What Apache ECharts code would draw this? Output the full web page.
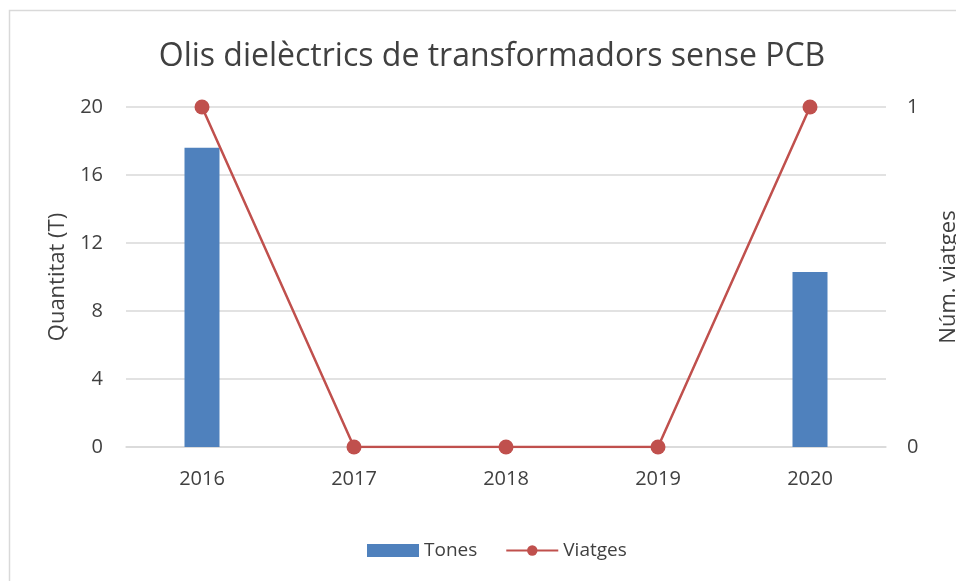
<!DOCTYPE html>
<html>
<head>
<meta charset="utf-8">
<script src="https://cdn.jsdelivr.net/npm/echarts@6/dist/echarts.min.js"></script>
<style>html,body{margin:0;padding:0;background:#fff}#c{width:956px;height:581px}</style>
</head>
<body>
<div id="c"></div>
<script>
const categories = ['2016', '2017', '2018', '2019', '2020'];
const tones = [17.6, 0, 0, 0, 10.3];
const viatges = [1, 0, 0, 0, 1];
const titleText = 'Olis dielèctrics de transformadors sense PCB';
const leftAxisName = 'Quantitat (T)';
const rightAxisName = 'Núm. viatges';

const FONT = '"Open Sans", "Noto Sans", sans-serif';
const TXT = '#404040';
const chart = echarts.init(document.getElementById('c'), null, {renderer: 'canvas'});
chart.setOption({
  animation: false,
  backgroundColor: '#fff',
  graphic: [{
    type: 'rect', shape: {x: 9.5, y: 10.5, width: 1000, height: 700},
    style: {fill: 'none', stroke: '#d9d9d9', lineWidth: 1.5}, silent: true, z: -1
  }],
  title: {
    text: titleText, left: 487, top: 36, textAlign: 'center',
    textStyle: {fontFamily: FONT, fontSize: 32, fontWeight: 'normal', color: TXT}
  },
  grid: {left: 126, right: 70, top: 107, bottom: 134, outerBoundsMode: 'none', containLabel: false},
  legend: {
    top: 536, left: 362, itemGap: 28, itemWidth: 52, itemHeight: 13,
    textStyle: {fontFamily: FONT, fontSize: 19, color: TXT},
    data: [{name: 'Tones', icon: 'rect'}, {name: 'Viatges'}]
  },
  xAxis: {
    type: 'category', data: categories,
    axisLine: {show: true, lineStyle: {color: '#d9d9d9', width: 1.5}},
    axisTick: {show: false},
    axisLabel: {fontFamily: FONT, fontSize: 20, color: TXT, margin: 22}
  },
  yAxis: [{
    type: 'value', min: 0, max: 20, interval: 4,
    name: leftAxisName, nameLocation: 'middle', nameGap: 57, nameRotate: 90,
    nameTextStyle: {fontFamily: FONT, fontSize: 22, color: TXT},
    axisLine: {show: false}, axisTick: {show: false},
    axisLabel: {fontFamily: FONT, fontSize: 20, color: TXT, margin: 23},
    splitLine: {lineStyle: {color: '#d9d9d9', width: 1.5}}
  }, {
    type: 'value', min: 0, max: 1, interval: 0.2,
    name: rightAxisName, nameLocation: 'middle', nameGap: 52, nameRotate: 90,
    nameTextStyle: {fontFamily: FONT, fontSize: 22, color: TXT},
    axisLine: {show: false}, axisTick: {show: false}, splitLine: {show: false},
    axisLabel: {fontFamily: FONT, fontSize: 20, color: TXT, margin: 21,
      formatter: v => (v === 0 || v === 1) ? String(v) : ''}
  }],
  series: [{
    name: 'Tones', type: 'bar', data: tones, yAxisIndex: 0, barWidth: 35,
    itemStyle: {color: '#4f81bd'}
  }, {
    name: 'Viatges', type: 'line', data: viatges, yAxisIndex: 1,
    symbol: 'circle', symbolSize: 15,
    lineStyle: {color: '#c0504d', width: 2.5},
    itemStyle: {color: '#c0504d'}
  }]
});
</script>
</body>
</html>
